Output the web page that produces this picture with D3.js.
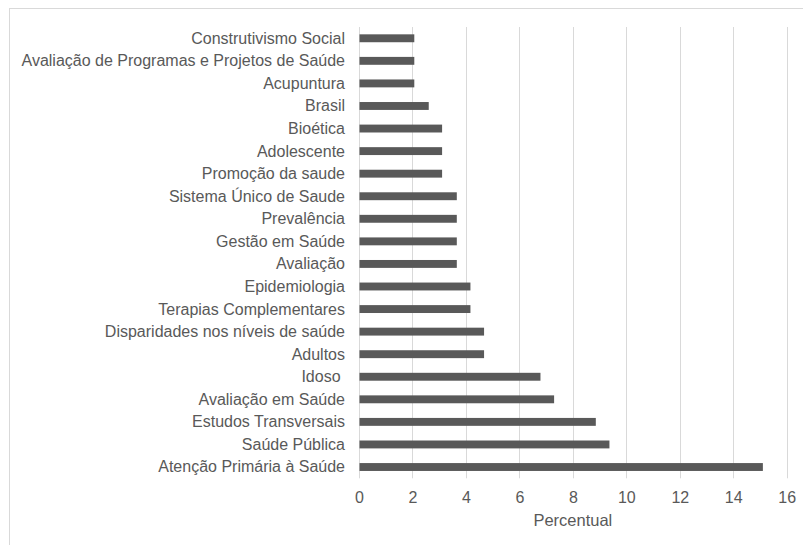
<!DOCTYPE html>
<html>
<head>
<meta charset="utf-8">
<script src="https://cdn.jsdelivr.net/npm/d3@7"></script>
<style>
  html, body { margin: 0; padding: 0; background: #fff; }
  svg { display: block; }
  text { font-family: "Liberation Sans", Arial, sans-serif; fill: #595959; white-space: pre; }
</style>
</head>
<body>
<svg id="chart" width="803" height="545"></svg>
<script>
const categories = [
  "Construtivismo Social",
  "Avaliação de Programas e Projetos de Saúde",
  "Acupuntura",
  "Brasil",
  "Bioética",
  "Adolescente",
  "Promoção da saude",
  "Sistema Único de Saude",
  "Prevalência",
  "Gestão em Saúde",
  "Avaliação",
  "Epidemiologia",
  "Terapias Complementares",
  "Disparidades nos níveis de saúde",
  "Adultos",
  "Idoso ",
  "Avaliação em Saúde",
  "Estudos Transversais",
  "Saúde Pública",
  "Atenção Primária à Saúde"
];
const values = [
  2.05, 2.05, 2.05, 2.59, 3.09, 3.09, 3.09, 3.64, 3.64, 3.64,
  3.64, 4.15, 4.15, 4.66, 4.66, 6.77, 7.28, 8.84, 9.35, 15.09
];
const xTicks = [0, 2, 4, 6, 8, 10, 12, 14, 16];
const xTitle = "Percentual";

const svg = d3.select("#chart");

// outer border
svg.append("rect")
  .attr("x", 9.5).attr("y", 8.5)
  .attr("width", 820).attr("height", 560)
  .attr("fill", "none").attr("stroke", "#d9d9d9").attr("stroke-width", 1);

const plotLeft = 359, plotRight = 786.7, plotTop = 27, plotBottom = 478.3;

const x = d3.scaleLinear().domain([0, 16]).range([plotLeft, plotRight]);
const y = d3.scaleBand().domain(categories).range([plotTop, plotBottom])
  .paddingInner(0.65).paddingOuter(0.325);

// gridlines
svg.append("g").selectAll("line").data(xTicks).join("line")
  .attr("x1", d => Math.round(x(d)) + 0.5).attr("x2", d => Math.round(x(d)) + 0.5)
  .attr("y1", plotTop).attr("y2", plotBottom)
  .attr("stroke", "#d9d9d9").attr("stroke-width", 1);

// bars
const data = categories.map((c, i) => ({ c, v: values[i] }));
svg.append("g").selectAll("rect").data(data).join("rect")
  .attr("x", x(0) + 0.5)
  .attr("y", d => y(d.c))
  .attr("width", d => x(d.v) - x(0))
  .attr("height", y.bandwidth())
  .attr("fill", "#595959");

// category labels
svg.append("g").selectAll("text").data(categories).join("text")
  .attr("x", 345)
  .attr("y", d => y(d) + y.bandwidth() / 2)
  .attr("dy", "0.34em")
  .attr("text-anchor", "end")
  .attr("font-size", "16px")
  .text(d => d);

// x axis
const xAxis = d3.axisBottom(x).tickValues(xTicks).tickSize(0).tickPadding(13);
const gx = svg.append("g").attr("transform", `translate(0,${plotBottom})`).call(xAxis);
gx.select(".domain").remove();
gx.selectAll("text")
  .attr("font-size", "16px")
  .attr("font-family", "Liberation Sans, Arial, sans-serif")
  .attr("fill", "#595959");

// axis title
svg.append("text")
  .attr("x", (plotLeft + plotRight) / 2)
  .attr("y", 526)
  .attr("text-anchor", "middle")
  .attr("font-size", "16.5px")
  .text(xTitle);
</script>
</body>
</html>
